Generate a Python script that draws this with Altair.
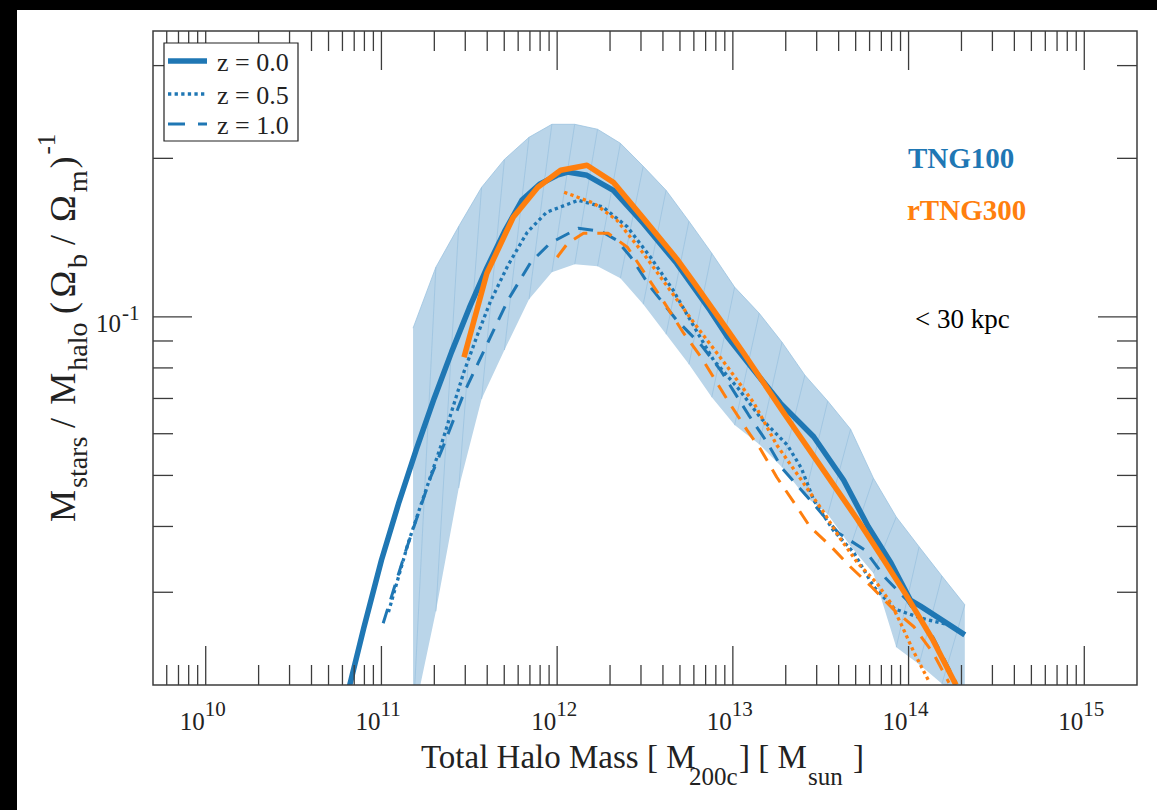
import altair as alt
import pandas as pd

# ---------------- data ----------------
# TNG100 (blue): log10 halo mass and stellar-to-halo fraction
tng100_z0_logm = [10.80, 10.90, 11.00, 11.10, 11.20, 11.30, 11.40, 11.50, 11.60, 11.70, 11.80, 11.90, 12.00, 12.06,
                  12.17, 12.32, 12.49, 12.68, 12.87, 12.97, 13.12, 13.27, 13.46, 13.63, 13.77, 13.90, 14.01, 14.07,
                  14.32]
tng100_z0_frac = [0.0188, 0.0257, 0.0345, 0.0445, 0.0562, 0.0700, 0.0859, 0.1040, 0.1239, 0.1452, 0.1667, 0.1786,
                  0.1858, 0.1884, 0.1857, 0.1739, 0.1506, 0.1264, 0.1030, 0.0916, 0.0792, 0.0686, 0.0592, 0.0490,
                  0.0400, 0.0341, 0.0290, 0.0282, 0.0249]

tng100_z05_logm = [11.04, 11.15, 11.22, 11.34, 11.47, 11.55, 11.62, 11.72, 11.83, 11.94, 12.12, 12.26, 12.40, 12.53,
                   12.66, 12.78, 12.89, 13.03, 13.16, 13.31, 13.39, 13.46, 13.57, 13.69, 13.80, 13.92, 14.07, 14.21]
tng100_z05_frac = [0.0275, 0.0370, 0.0435, 0.0571, 0.0787, 0.0931, 0.1069, 0.1253, 0.1448, 0.1580, 0.1665, 0.1617,
                   0.1482, 0.1300, 0.1124, 0.0957, 0.0828, 0.0732, 0.0642, 0.0571, 0.0516, 0.0449, 0.0394, 0.0356,
                   0.0308, 0.0279, 0.0268, 0.0261]

tng100_z10_logm = [11.01, 11.14, 11.28, 11.35, 11.47, 11.55, 11.62, 11.72, 11.85, 11.96, 12.12, 12.25, 12.34, 12.42,
                   12.53, 12.68, 12.82, 12.93, 13.09, 13.19, 13.28, 13.44, 13.60, 13.75, 13.87, 13.99, 14.14, 14.27]
tng100_z10_frac = [0.0262, 0.0361, 0.0496, 0.0566, 0.0717, 0.0817, 0.0915, 0.1076, 0.1270, 0.1380, 0.1473, 0.1454,
                   0.1398, 0.1298, 0.1140, 0.0986, 0.0884, 0.0792, 0.0651, 0.0581, 0.0516, 0.0449, 0.0389, 0.0361,
                   0.0319, 0.0290, 0.0246, 0.0202]

# rTNG300 (orange)
rtng300_z0_logm = [11.47, 11.60, 11.75, 11.89, 12.02, 12.17, 12.32, 12.49, 12.68, 12.78, 12.97, 13.06, 13.29, 13.52,
                   13.71, 13.86, 13.99, 14.14, 14.27]
rtng300_z0_frac = [0.0838, 0.1210, 0.1546, 0.1762, 0.1898, 0.1940, 0.1801, 0.1540, 0.1290, 0.1160, 0.0944, 0.0855,
                   0.0657, 0.0509, 0.0412, 0.0345, 0.0295, 0.0243, 0.0200]

rtng300_z05_logm = [12.04, 12.21, 12.34, 12.49, 12.63, 12.78, 12.97, 13.12, 13.25, 13.39, 13.52, 13.61, 13.71, 13.82,
                    13.90, 13.96, 14.03, 14.12]
rtng300_z05_frac = [0.1725, 0.1643, 0.1526, 0.1321, 0.1139, 0.0973, 0.0803, 0.0686, 0.0571, 0.0490, 0.0424, 0.0380,
                    0.0341, 0.0312, 0.0286, 0.0260, 0.0231, 0.0202]

rtng300_z10_logm = [12.00, 12.06, 12.15, 12.29, 12.40, 12.59, 12.72, 12.82, 12.97, 13.08, 13.16, 13.25, 13.35, 13.44,
                    13.56, 13.67, 13.79, 13.92, 14.03, 14.14, 14.23]
rtng300_z10_frac = [0.1298, 0.1380, 0.1441, 0.1441, 0.1356, 0.1090, 0.0931, 0.0838, 0.0695, 0.0610, 0.0559, 0.0496,
                    0.0443, 0.0399, 0.0366, 0.0335, 0.0307, 0.0277, 0.0258, 0.0230, 0.0202]

# TNG100 z=0 scatter band
band_logm = [11.18, 11.31, 11.44, 11.57, 11.70, 11.84, 11.97, 12.10, 12.23, 12.36, 12.49, 12.62, 12.75, 12.88,
             13.01, 13.15, 13.28, 13.41, 13.54, 13.67, 13.80, 13.93, 14.06, 14.19, 14.32]
band_hi = [0.0952, 0.1243, 0.1486, 0.1762, 0.1991, 0.2193, 0.2321, 0.2321, 0.2271, 0.2136, 0.1932, 0.1739, 0.1519,
           0.1321, 0.1139, 0.1016, 0.0895, 0.0775, 0.0692, 0.0612, 0.0494, 0.0417, 0.0366, 0.0322, 0.0284]
band_lo = [0.0172, 0.0276, 0.0473, 0.0698, 0.0865, 0.1080, 0.1216, 0.1259, 0.1248, 0.1184, 0.1057, 0.0927, 0.0813,
           0.0704, 0.0623, 0.0573, 0.0518, 0.0457, 0.0422, 0.0367, 0.0326, 0.0236, 0.0219, 0.0201, 0.0170]

# axis ticks / labels
x_major_exp = [10, 11, 12, 13, 14, 15]
y_major = [0.1]
y_minor = [0.03, 0.04, 0.05, 0.06, 0.07, 0.08, 0.09, 0.2, 0.3]
legend_labels = ["z = 0.0", "z = 0.5", "z = 1.0"]

# ---------------- styling ----------------
BLUE = "#1f77b4"
ORANGE = "#ff7f0e"
BAND = "#bad5e9"
MESH = "#9cc3e0"
AX = "#3c3c3c"
FONT = "Liberation Serif"
W, H = 984, 654
XLO, XHI = 10 ** 9.7, 10 ** 15.3
xscale = alt.Scale(type="log", domain=[XLO, XHI], nice=False)
yscale = alt.Scale(type="log", domain=[0.02, 0.349], nice=False)
DOT = [3.3, 3.3]
DASH = [15, 10]

one = pd.DataFrame({"a": [0]})


def sdf(logm, frac):
    return pd.DataFrame({"m": [10 ** v for v in logm], "f": frac, "i": list(range(len(logm)))})


def line(df, color, width, dash=None):
    kw = dict(color=color, strokeWidth=width, clip=True, strokeCap="butt", strokeJoin="round")
    if dash:
        kw["strokeDash"] = dash
    return alt.Chart(df).mark_line(**kw).encode(
        x=alt.X("m:Q", scale=xscale, axis=None),
        y=alt.Y("f:Q", scale=yscale, axis=None),
        order="i:Q",
    )


def label(text, x, y, size, color="black", align="left", angle=0, weight="normal", baseline="alphabetic"):
    return alt.Chart(one).mark_text(
        text=text, font=FONT, fontSize=size, color=color, align=align, angle=angle,
        fontWeight=weight, baseline=baseline
    ).encode(x=alt.value(x), y=alt.value(y))


layers = []

# white page area (reference has black strips at top and left)
layers.append(alt.Chart(one).mark_rect(color="white").encode(
    x=alt.value(-136), x2=alt.value(1004), y=alt.value(-21), y2=alt.value(779)))

# scatter band
band_m = [10 ** v for v in band_logm]
band_df = pd.DataFrame({"m": band_m, "hi": band_hi, "lo": band_lo})
layers.append(alt.Chart(band_df).mark_area(color=BAND, opacity=1, clip=True).encode(
    x=alt.X("m:Q", scale=xscale, axis=None),
    y=alt.Y("hi:Q", scale=yscale, axis=None),
    y2="lo:Q",
))
# faint triangulation mesh of the filled band
mesh_df = pd.DataFrame({
    "m1": band_m[:-1] + band_m[:-1],
    "f1": band_lo[:-1] + band_hi[:-1],
    "m2": band_m[1:] + band_m[1:],
    "f2": band_hi[1:] + band_hi[1:],
})
layers.append(alt.Chart(mesh_df).mark_rule(color=MESH, strokeWidth=0.8, clip=True).encode(
    x=alt.X("m1:Q", scale=xscale, axis=None),
    y=alt.Y("f1:Q", scale=yscale, axis=None),
    x2="m2:Q",
    y2="f2:Q",
))

# curves
layers.append(line(sdf(tng100_z0_logm, tng100_z0_frac), BLUE, 5.5))
layers.append(line(sdf(tng100_z05_logm, tng100_z05_frac), BLUE, 3.3, DOT))
layers.append(line(sdf(tng100_z10_logm, tng100_z10_frac), BLUE, 3.0, DASH))
layers.append(line(sdf(rtng300_z0_logm, rtng300_z0_frac), ORANGE, 5.5))
layers.append(line(sdf(rtng300_z05_logm, rtng300_z05_frac), ORANGE, 3.3, DOT))
layers.append(line(sdf(rtng300_z10_logm, rtng300_z10_frac), ORANGE, 3.0, DASH))

# ticks (inward, on all four sides)
x_major = [10.0 ** e for e in x_major_exp]
x_minor = [k * 10.0 ** e for e in range(9, 16) for k in range(2, 10) if XLO < k * 10.0 ** e < XHI * 0.995]
MAJ, MIN = 39, 20
for vals, ln in ((x_major, MAJ), (x_minor, MIN)):
    d = pd.DataFrame({"v": vals})
    enc_x = alt.X("v:Q", scale=xscale, axis=None)
    layers.append(alt.Chart(d).mark_rule(color=AX, strokeWidth=1.3).encode(
        x=enc_x, y=alt.value(H), y2=alt.value(H - ln)))
    layers.append(alt.Chart(d).mark_rule(color=AX, strokeWidth=1.3).encode(
        x=enc_x, y=alt.value(0), y2=alt.value(ln)))
for vals, ln in ((y_major, MAJ), (y_minor, MIN)):
    d = pd.DataFrame({"v": vals})
    enc_y = alt.Y("v:Q", scale=yscale, axis=None)
    layers.append(alt.Chart(d).mark_rule(color=AX, strokeWidth=1.3).encode(
        y=enc_y, x=alt.value(0), x2=alt.value(ln)))
    layers.append(alt.Chart(d).mark_rule(color=AX, strokeWidth=1.3).encode(
        y=enc_y, x=alt.value(W), x2=alt.value(W - ln)))

# frame
layers.append(alt.Chart(one).mark_rect(filled=False, color=AX, strokeWidth=1.5).encode(
    x=alt.value(0), x2=alt.value(W), y=alt.value(0), y2=alt.value(H)))

# x tick labels: 10^n
xl = pd.DataFrame({"v": x_major, "b": ["10"] * len(x_major), "e": [str(e) for e in x_major_exp]})
layers.append(alt.Chart(xl).mark_text(font=FONT, fontSize=25, align="right", baseline="alphabetic", dx=-1,
                                      color="#222").encode(
    x=alt.X("v:Q", scale=xscale, axis=None), y=alt.value(H + 45), text="b:N"))
layers.append(alt.Chart(xl).mark_text(font=FONT, fontSize=21, align="left", baseline="alphabetic", dx=-1,
                                      color="#222").encode(
    x=alt.X("v:Q", scale=xscale, axis=None), y=alt.value(H + 31), text="e:N"))

# y tick label 10^-1
yl = pd.DataFrame({"v": y_major, "b": ["10"], "e": ["-1"]})
layers.append(alt.Chart(yl).mark_text(font=FONT, fontSize=25, align="right", baseline="alphabetic", dy=15,
                                      color="#222").encode(
    y=alt.Y("v:Q", scale=yscale, axis=None), x=alt.value(-32), text="b:N"))
layers.append(alt.Chart(yl).mark_text(font=FONT, fontSize=21, align="left", baseline="alphabetic", dy=3,
                                      color="#222").encode(
    y=alt.Y("v:Q", scale=yscale, axis=None), x=alt.value(-31), text="e:N"))

# x axis title with subscripts
XB, XS = 737, 754
layers.append(label("Total Halo Mass [ M", 268, XB, 33, "#222"))
layers.append(label("200c", 536, XS, 25, "#222"))
layers.append(label("] [ M", 586, XB, 33, "#222"))
layers.append(label("sun", 655, XS, 25, "#222"))
layers.append(label("]", 700, XB, 33, "#222"))

# y axis title (rotated) with sub/superscripts
YM, YS, YP = -78, -66, -98
for txt, ypos, xpos, size in [
    ("M", 491, YM, 36), ("stars", 457, YS, 28), ("/", 397, YM, 36), ("M", 373.7, YM, 36),
    ("halo", 339.7, YS, 28), ("(", 283, YM, 36), ("Ω", 266.5, YM, 36), ("b", 236.9, YS, 28),
    ("/", 214, YM, 36), ("Ω", 190.9, YM, 36), ("m", 161.3, YS, 28), (")", 137.5, YM, 36),
    ("-1", 123.5, YP, 25),
]:
    layers.append(label(txt, xpos, ypos, size, "#222", angle=270))

# annotations
layers.append(label("TNG100", 755, 137, 29, BLUE, weight="bold"))
layers.append(label("rTNG300", 754, 189, 29, ORANGE, weight="bold"))
layers.append(label("< 30 kpc", 762, 297, 27, "black"))

# legend
layers.append(alt.Chart(one).mark_rect(fill="white", stroke="#222", strokeWidth=1.2).encode(
    x=alt.value(11), x2=alt.value(145), y=alt.value(12), y2=alt.value(110)))
for (lab, yy, w, dash) in zip(legend_labels, [30, 63, 93], [5.5, 3.3, 3.0], [None, DOT, [17, 13]]):
    kw = dict(color=BLUE, strokeWidth=w, strokeCap="butt")
    if dash:
        kw["strokeDash"] = dash
    layers.append(alt.Chart(one).mark_rule(**kw).encode(
        x=alt.value(15), x2=alt.value(54), y=alt.value(yy)))
    layers.append(label(lab, 64, yy + 10, 26, "#222"))

chart = alt.layer(*layers).properties(
    width=W,
    height=H,
    padding={"left": 153, "top": 31, "right": 20, "bottom": 125},
    autosize=alt.AutoSizeParams(type="none"),
    background="black",
).configure_view(strokeWidth=0)

chart.save("out.html", embed_options={"renderer": "svg", "actions": False})
